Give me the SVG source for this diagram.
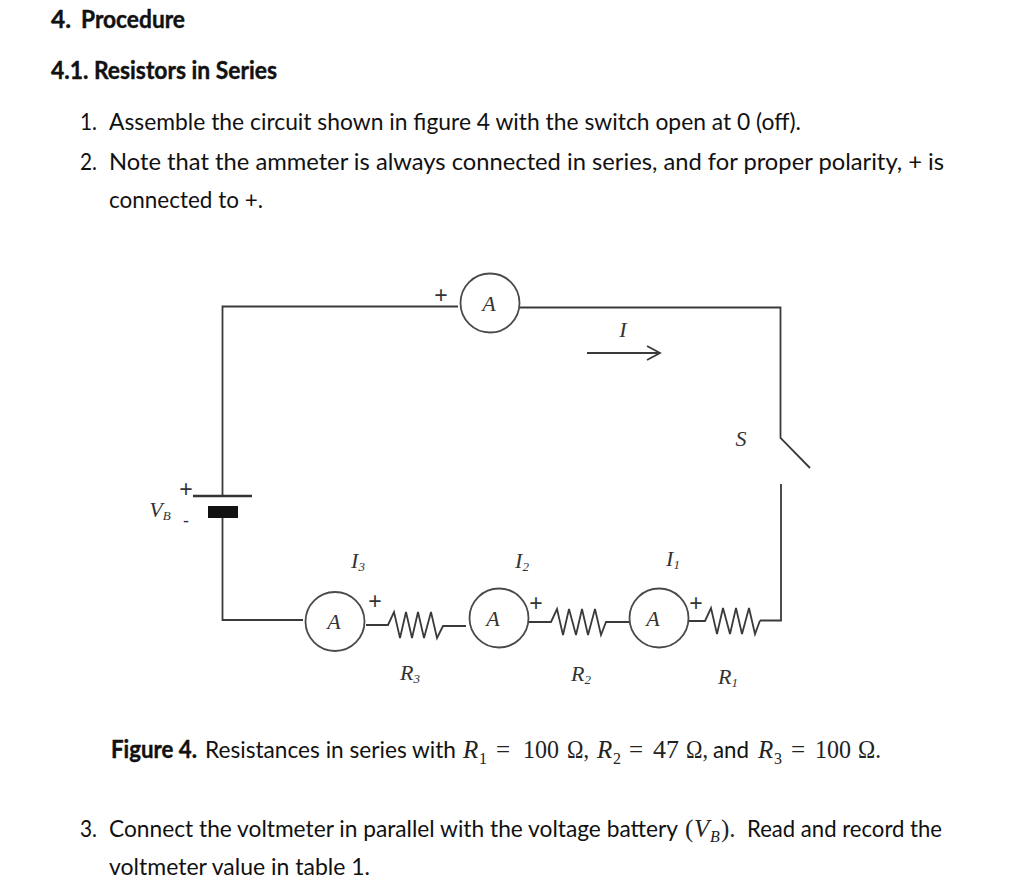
<svg xmlns="http://www.w3.org/2000/svg" width="1024" height="895" viewBox="0 0 1024 895">
<style>
.t{font-family:"Lato","Open Sans",sans-serif;font-size:24px;fill:#111}
.b{font-weight:700;stroke:#111;stroke-width:.4}
.m{font-family:"Liberation Serif",serif;font-size:25px;fill:#222}
.i{font-style:italic}
.s{font-size:16px}
.c{font-family:"Liberation Serif",serif;font-size:22px;font-style:italic;fill:#333;text-anchor:middle}
.cs{font-size:13px}
.p{font-family:"Liberation Sans",sans-serif;font-size:23px;fill:#333;text-anchor:middle}
.w{fill:none;stroke:#3a3a3a;stroke-width:1.8}
.am{fill:#fff;stroke:#4a4a4a;stroke-width:1.8}
</style>
<rect width="1024" height="895" fill="#fff"/>
<g id="text-body">
<text class="t b" x="51" y="28" textLength="20" lengthAdjust="spacingAndGlyphs">4.</text>
<text class="t b" x="81" y="28" textLength="104" lengthAdjust="spacingAndGlyphs">Procedure</text>
<text class="t b" x="51" y="79" textLength="226" lengthAdjust="spacingAndGlyphs">4.1. Resistors in Series</text>
<text class="t" x="80" y="130" textLength="17" lengthAdjust="spacingAndGlyphs">1.</text>
<text class="t" x="109" y="130" textLength="692" lengthAdjust="spacingAndGlyphs">Assemble the circuit shown in figure 4 with the switch open at 0 (off).</text>
<text class="t" x="80" y="170" textLength="17" lengthAdjust="spacingAndGlyphs">2.</text>
<text class="t" x="109" y="170" textLength="835" lengthAdjust="spacingAndGlyphs">Note that the ammeter is always connected in series, and for proper polarity, + is</text>
<text class="t" x="109" y="208" textLength="154" lengthAdjust="spacingAndGlyphs">connected to +.</text>
</g>
<g id="caption">
<text class="t b" x="111" y="758" textLength="86" lengthAdjust="spacingAndGlyphs">Figure 4.</text>
<text class="t" x="205" y="758" textLength="251" lengthAdjust="spacingAndGlyphs">Resistances in series with</text>
<text class="m i" x="463" y="758">R</text><text class="m s" x="479" y="764">1</text>
<text class="m" x="496" y="758">=</text>
<text class="m" x="523" y="758" textLength="36" lengthAdjust="spacingAndGlyphs">100</text>
<text class="m" x="567" y="758" textLength="22" lengthAdjust="spacingAndGlyphs">Ω,</text>
<text class="m i" x="597" y="758">R</text><text class="m s" x="613" y="764">2</text>
<text class="m" x="629" y="758">=</text>
<text class="m" x="653" y="758" textLength="26" lengthAdjust="spacingAndGlyphs">47</text>
<text class="m" x="686" y="758" textLength="22" lengthAdjust="spacingAndGlyphs">Ω,</text>
<text class="t" x="713" y="758" textLength="36" lengthAdjust="spacingAndGlyphs">and</text>
<text class="m i" x="758" y="758">R</text><text class="m s" x="774" y="764">3</text>
<text class="m" x="791" y="758">=</text>
<text class="m" x="815" y="758" textLength="36" lengthAdjust="spacingAndGlyphs">100</text>
<text class="m" x="858" y="758" textLength="23" lengthAdjust="spacingAndGlyphs">Ω.</text>
</g>
<g id="text-step3">
<text class="t" x="80" y="837" textLength="17" lengthAdjust="spacingAndGlyphs">3.</text>
<text class="t" x="109" y="837" textLength="569" lengthAdjust="spacingAndGlyphs">Connect the voltmeter in parallel with the voltage battery</text>
<text class="m" x="685" y="837">(</text>
<text class="m i" x="694" y="837">V</text>
<text class="m i s" x="710" y="842">B</text>
<text class="m" x="721" y="837">).</text>
<text class="t" x="747" y="837" textLength="195" lengthAdjust="spacingAndGlyphs">Read and record the</text>
<text class="t" x="109" y="875" textLength="261" lengthAdjust="spacingAndGlyphs">voltmeter value in table 1.</text>
</g>
<g id="connectors">
<path class="w" d="M458 306.500H222.500V496"/>
<path class="w" d="M520 307.500H780.500V438L810 468"/>
<path class="w" d="M781 484V620.500H760"/>
<path class="w" d="M222.500 518V620H303"/>
<path class="w" d="M366 625H388L394 612L400 638L406 612L412 638L418 612L424 638L431 612L437 638L443 626H466"/>
<path class="w" d="M529 622H551L557 609L563 635L569 609L576 635L582 609L588 635L595 609L601 635L606 622H630"/>
<path class="w" d="M689 621H705L711 608L717 634L723 608L730 634L736 608L742 634L749 608L755 634L760 620.500"/>
<path class="w" d="M587 353H660M647 346L660 353L647 360"/>
</g>
<g id="battery">
<path d="M193 496H252" stroke="#333" stroke-width="2.500" fill="none"/>
<rect x="208" y="506" width="30" height="12" fill="#111"/>
<text class="p" x="186" y="497">+</text>
<text class="p" x="186" y="527" style="font-size:18px">-</text>
<text class="c" x="160" y="517">V<tspan class="cs" dy="3">B</tspan></text>
</g>
<g id="ammeter-top">
<circle class="am" cx="490" cy="303" r="29.500"/>
<text class="c" x="489" y="311">A</text>
<text class="p" x="441" y="303">+</text>
</g>
<g id="ammeter-3">
<circle class="am" cx="335" cy="621.500" r="29.500"/>
<text class="c" x="334" y="629">A</text>
<text class="p" x="375" y="609">+</text>
</g>
<g id="ammeter-2">
<circle class="am" cx="499" cy="618" r="29.500"/>
<text class="c" x="493" y="626">A</text>
<text class="p" x="536" y="611">+</text>
</g>
<g id="ammeter-1">
<circle class="am" cx="659" cy="618" r="29.500"/>
<text class="c" x="653" y="626">A</text>
<text class="p" x="696" y="611">+</text>
</g>
<g id="labels">
<text class="c" x="623" y="337">I</text>
<text class="c" x="741" y="446">S</text>
<text class="c" x="358" y="568">I<tspan class="cs" dy="3">3</tspan></text>
<text class="c" x="522" y="568">I<tspan class="cs" dy="3">2</tspan></text>
<text class="c" x="673" y="566">I<tspan class="cs" dy="3">1</tspan></text>
<text class="c" x="410" y="680">R<tspan class="cs" dy="3">3</tspan></text>
<text class="c" x="581" y="681">R<tspan class="cs" dy="3">2</tspan></text>
<text class="c" x="728" y="684">R<tspan class="cs" dy="3">1</tspan></text>
</g>
</svg>
